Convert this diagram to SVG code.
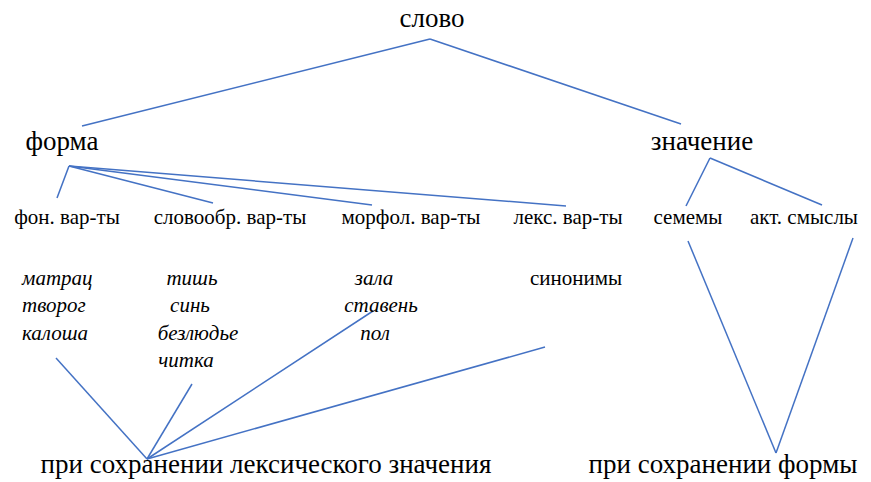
<svg xmlns="http://www.w3.org/2000/svg" width="871" height="482" viewBox="0 0 871 482">
<style>
.t{font-family:'Times New Roman','Liberation Serif',serif;fill:#000}
.mid{text-anchor:middle}
.big{font-size:27px}
.sm{font-size:21px}
.it{font-style:italic}
</style>
<rect width="871" height="482" fill="#fff"/>
<g id="connectors" stroke="#4472C4" stroke-width="1.5">
<line x1="430" y1="39" x2="82" y2="126"/>
<line x1="430" y1="39" x2="681" y2="124"/>
<line x1="69" y1="166" x2="57" y2="198"/>
<line x1="69" y1="166" x2="213" y2="203"/>
<line x1="69" y1="166" x2="372" y2="205"/>
<line x1="69" y1="166" x2="566" y2="206"/>
<line x1="710" y1="158" x2="686" y2="206"/>
<line x1="710" y1="158" x2="822" y2="205"/>
<line x1="688" y1="241" x2="776" y2="453"/>
<line x1="853" y1="238" x2="776" y2="453"/>
<line x1="147" y1="459" x2="56" y2="358"/>
<line x1="147" y1="459" x2="192" y2="384"/>
<line x1="147" y1="459" x2="373" y2="311"/>
<line x1="147" y1="459" x2="545" y2="347"/>
</g>
<g id="slovo"><text class="t mid big" font-family="serif" x="432" y="27">слово</text></g>
<g id="forma"><text class="t mid big" font-family="serif" x="62" y="150">форма</text></g>
<g id="znachenie"><text class="t mid big" font-family="serif" x="702" y="150">значение</text></g>
<g id="fon"><text class="t mid sm" font-family="serif" x="67" y="224">фон. вар-ты</text></g>
<g id="slovoobr"><text class="t mid sm" font-family="serif" x="230" y="224">словообр. вар-ты</text></g>
<g id="morfol"><text class="t mid sm" font-family="serif" x="411" y="224">морфол. вар-ты</text></g>
<g id="leks"><text class="t mid sm" font-family="serif" x="568" y="224">лекс. вар-ты</text></g>
<g id="sememy"><text class="t mid sm" font-family="serif" x="688" y="224">семемы</text></g>
<g id="akt"><text class="t mid sm" font-family="serif" x="804" y="224">акт. смыслы</text></g>
<g id="col1">
<text class="t sm it" font-family="serif" x="22" y="285">матрац</text>
<text class="t sm it" font-family="serif" x="22" y="312">творог</text>
<text class="t sm it" font-family="serif" x="22" y="340">калоша</text>
</g>
<g id="col2">
<text class="t mid sm it" font-family="serif" x="192" y="285">тишь</text>
<text class="t mid sm it" font-family="serif" x="190" y="312">синь</text>
<text class="t mid sm it" font-family="serif" x="198" y="340">безлюдье</text>
<text class="t mid sm it" font-family="serif" x="186" y="367">читка</text>
</g>
<g id="col3">
<text class="t mid sm it" font-family="serif" x="374" y="285">зала</text>
<text class="t mid sm it" font-family="serif" x="381" y="312">ставень</text>
<text class="t mid sm it" font-family="serif" x="375" y="340">пол</text>
</g>
<g id="sinonimy"><text class="t mid sm" font-family="serif" x="576" y="285">синонимы</text></g>
<g id="lex"><text class="t mid big" font-family="serif" x="266" y="473">при сохранении лексического значения</text></g>
<g id="formy"><text class="t mid big" font-family="serif" x="723" y="473">при сохранении формы</text></g>
</svg>
